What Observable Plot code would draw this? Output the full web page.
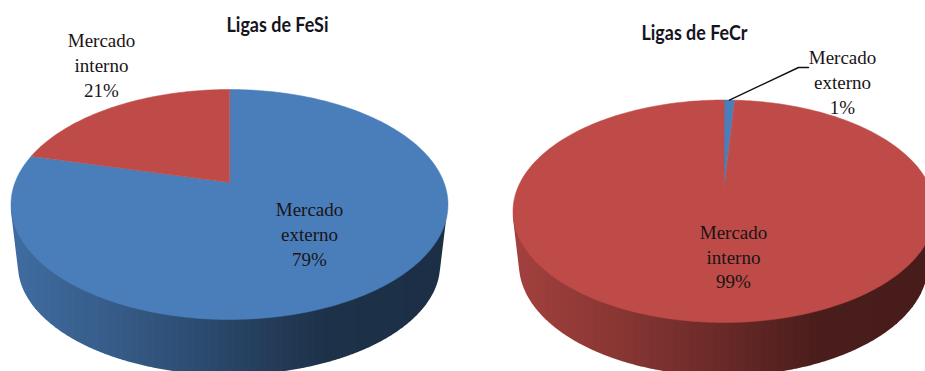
<!DOCTYPE html>
<html lang="pt">
<head>
<meta charset="utf-8">
<title>Ligas de FeSi e FeCr</title>
<script src="https://cdn.jsdelivr.net/npm/d3@7"></script>
<script src="https://cdn.jsdelivr.net/npm/@observablehq/plot@0.6"></script>
<style>
  html, body { margin: 0; padding: 0; background: #fff; overflow: hidden; }
  svg { display: block; overflow: hidden; }
</style>
</head>
<body>
<div id="chart"></div>
<script>
// Destination markets for each alloy, percent of sales
const categories = ["Mercado externo", "Mercado interno"];
const feSiValues = [79, 21];
const feCrValues = [1, 99];
const chartTitles = ["Ligas de FeSi", "Ligas de FeCr"];
const categoryColors = ["#4a7ebb", "#be4b48"];

const width = 925, height = 371;

// Perspective frame of each tilted disc
const discs = [
  {
    title: chartTitles[0], values: feSiValues,
    cx: 229, top: 89, apex: 182, bottom: 319, rx: 218.5,
    base: {cy: 266, rx: 211, ry: 110},
    titleAt: [277, 31], titleWidth: 102,
    labelAt: [[309, 265], [101, 96]]
  },
  {
    title: chartTitles[1], values: feCrValues,
    cx: 723.5, top: 99.5, apex: 188, bottom: 322, rx: 211,
    base: {cy: 265, rx: 204.5, ry: 112},
    titleAt: [694, 39], titleWidth: 106,
    labelAt: [[842, 113], [733, 287.5]]
  }
];

// Central projection of the unit circle: the circle's centre lands on the apex
function projector(d) {
  const up = d.apex - d.top, down = d.bottom - d.apex;
  const k = (down - up) / (down + up);
  const B = up * (1 + k);
  const A = d.rx * Math.sqrt(1 - k * k);
  return share => {
    const a = share * 2 * Math.PI;
    const c = Math.sin(a), s = Math.cos(a), w = 1 + k * s;
    return [d.cx + A * c / w, d.apex - B * s / w];
  };
}

// Slice outlines: apex, then the rim walked clockwise from twelve o'clock
const slicePoints = [];
discs.forEach((d, di) => {
  const project = projector(d);
  const total = d3.sum(d.values);
  let start = 0;
  d.values.forEach((v, i) => {
    const key = `${di}-${i}`;
    const end = start + v / total;
    const steps = Math.max(2, Math.ceil((end - start) * 360));
    slicePoints.push({key, category: categories[i], px: d.cx, py: d.apex});
    for (let j = 0; j <= steps; j++) {
      const [px, py] = project(start + (end - start) * j / steps);
      slicePoints.push({key, category: categories[i], px, py});
    }
    start = end;
  });
});

// Shaded wall: narrow vertical strips under the slice that faces the viewer
const shade = d3.scaleLinear()
  .domain([0, 0.25, 0.5, 0.72, 1])
  .range([0.86, 0.72, 0.55, 0.39, 0.37]);
const stripWidth = 8;
const wallPoints = [];
discs.forEach((d, di) => {
  const total = d3.sum(d.values);
  let acc = 0, front = 0;
  d.values.forEach((v, i) => {
    if (acc <= total / 2 && total / 2 < acc + v) front = i;
    acc += v;
  });
  const rgb = d3.rgb(categoryColors[front]);
  const topCy = (d.top + d.bottom) / 2, topRy = (d.bottom - d.top) / 2;
  const left = Math.ceil(d.cx - d.rx), right = Math.floor(d.cx + d.rx);
  for (let x0 = left; x0 < right; x0 += stripWidth) {
    const x1 = Math.min(x0 + stripWidth, right);
    const m = shade(((x0 + x1) / 2 - left) / (right - left));
    const color = d3.rgb(rgb.r * m, rgb.g * m, rgb.b * m).formatRgb();
    for (let x = x0; x <= x1; x++) {
      let lower = topCy;
      for (let t = 0; t <= 1; t += 0.02) {
        const rx = d.rx + (d.base.rx - d.rx) * t;
        const ry = topRy + (d.base.ry - topRy) * t;
        const cy = topCy + (d.base.cy - topCy) * t;
        const u = (x - d.cx) / rx;
        if (Math.abs(u) <= 1) lower = Math.max(lower, cy + ry * Math.sqrt(1 - u * u));
      }
      wallPoints.push({strip: `${di}-${x0}`, color, x, y1: topCy, y2: lower});
    }
  }
});

// Labels: name split on two lines, then the share
const labels = discs.flatMap(d => d.values.map((v, i) => ({
  text: categories[i].replace(" ", "\n") + `\n${v}%`,
  px: d.labelAt[i][0], py: d.labelAt[i][1]
})));
const titles = discs.map(d => ({text: d.title, px: d.titleAt[0], py: d.titleAt[1]}));

// Leader line from the thin FeCr slice to its label
const tip = projector(discs[1])(0.005);
const leader = [
  {px: tip[0], py: tip[1]},
  {px: 798, py: 67},
  {px: 808, py: 67}
];

const chart = Plot.plot({
  width, height,
  marginTop: 0, marginRight: 0, marginBottom: 0, marginLeft: 0,
  x: {domain: [0, width], range: [0, width], axis: null},
  y: {domain: [0, height], range: [0, height], axis: null},
  color: {domain: categories, range: categoryColors},
  style: {background: "#fff"},
  marks: [
    Plot.area(wallPoints, {
      x1: "x", x2: "x", y1: "y1", y2: "y2", z: "strip",
      fill: {value: "color", scale: null}
    }),
    Plot.line(slicePoints, {
      x: "px", y: "py", z: "key",
      fill: "category", stroke: "category", strokeWidth: 0.5,
      curve: "linear-closed"
    }),
    Plot.line(leader, {x: "px", y: "py", stroke: "#111", strokeWidth: 1.4}),
    Plot.text(labels, {
      x: "px", y: "py", text: "text",
      lineAnchor: "bottom", lineHeight: 1.29, textAnchor: "middle",
      fontFamily: "Liberation Serif", fontSize: 19, fill: "#1a1416"
    }),
    Plot.text(titles, {
      x: "px", y: "py", text: "text",
      lineAnchor: "bottom", textAnchor: "middle",
      fontFamily: "Lato", fontWeight: 700, fontSize: 20, fill: "#14141e",
      className: "pie-title"
    })
  ]
});

// Narrow the headings to a condensed set width
chart.querySelectorAll(".pie-title text").forEach((node, i) => {
  node.setAttribute("textLength", discs[i].titleWidth);
  node.setAttribute("lengthAdjust", "spacingAndGlyphs");
});

document.getElementById("chart").appendChild(chart);
</script>
</body>
</html>
